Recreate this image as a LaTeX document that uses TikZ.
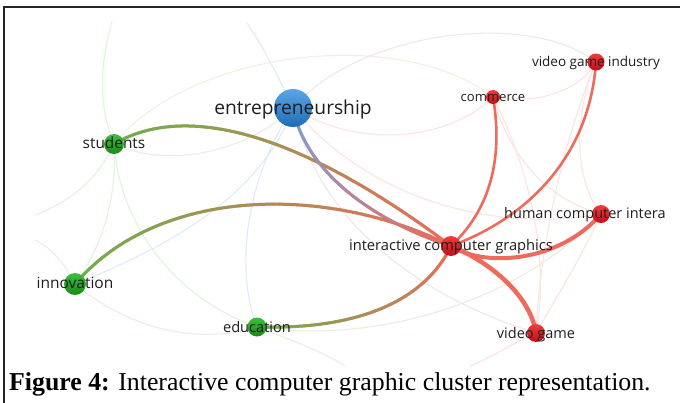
\documentclass[tikz,border=0pt]{standalone}
\usepackage{fontspec}
\setmainfont{Liberation Serif}
\newfontfamily\osans{Open Sans}
\usetikzlibrary{decorations.markings}
\definecolor{egreen}{HTML}{6DB04E}
\definecolor{ered}{HTML}{EE6A5C}
\definecolor{eblue}{HTML}{7C9FD8}
\definecolor{fgreen}{HTML}{E2F3DF}
\definecolor{fblue}{HTML}{E0EBF7}
\definecolor{fpink}{HTML}{FCE4E1}
\definecolor{fbeige}{HTML}{F7EEE2}
\definecolor{lbltext}{HTML}{1E1E1E}
\definecolor{ntopg}{HTML}{3DBE3D}
\definecolor{nbotg}{HTML}{178A17}
\definecolor{ntopr}{HTML}{F03C3C}
\definecolor{nbotr}{HTML}{C20E16}
\definecolor{ntopb}{HTML}{5AA6E8}
\definecolor{nbotb}{HTML}{1F6CB5}
\tikzset{
  gradedge/.style n args={3}{decorate, decoration={markings,
     mark=between positions 0 and 1 step 1.2pt with {
       \pgfmathtruncatemacro\myfr{(\pgfkeysvalueof{/pgf/decoration/mark info/distance from start}/\pgfdecoratedpathlength)*100}
       \draw[line width=#3, color=#2!\myfr!#1] (-0.9pt,0) -- (0.9pt,0);
     }}},
  faint/.style={line width=1.1pt, draw=#1},
  redge/.style={line width=#1, draw=ered},
  gnode/.style={circle, inner sep=0pt, minimum size=#1, top color=ntopg, bottom color=nbotg, draw=none},
  rnode/.style={circle, inner sep=0pt, minimum size=#1, top color=ntopr, bottom color=nbotr, draw=none},
  bnode/.style={circle, inner sep=0pt, minimum size=#1, top color=ntopb, bottom color=nbotb, draw=none},
  lbl/.style={inner sep=0pt, anchor=base, text=lbltext, font=\osans\fontsize{#1}{#1}\selectfont},
}
\begin{document}
\begin{tikzpicture}[x=1pt,y=-1pt]
\useasboundingbox (0,0) rectangle (680,403);
\fill[white] (0,0) rectangle (680,403);
% frame
\draw[line width=1.3pt, black!85] (680,7) -- (4,7) -- (4,403);

% node centres
\coordinate (ent) at (293,108);
\coordinate (stu) at (114,144);
\coordinate (inn) at (75,284);
\coordinate (edu) at (257,327);
\coordinate (icg) at (451,246);
\coordinate (com) at (493,97);
\coordinate (vgi) at (596,62);
\coordinate (hci) at (601,214);
\coordinate (vg) at (536,333);
% free ends of faint connectors
\coordinate (top1) at (112,22);
\coordinate (top2) at (247,23);
\coordinate (left1) at (35,215);
\coordinate (left2) at (35,240);
\coordinate (low1) at (345,366);
\coordinate (low2) at (470,366);

% faint connectors
\draw[faint=fgreen] (top1) .. controls (98,70) and (100,110) .. (stu);
\draw[faint=fblue] (top2) .. controls (262,45) and (275,70) .. (ent);
\draw[faint=fbeige] (stu) .. controls (190,50) and (400,25) .. (com);
\draw[faint=fgreen] (stu) .. controls (170,170) and (250,150) .. (ent);
\draw[faint=fgreen] (stu) .. controls (100,175) and (75,200) .. (left1);
\draw[faint=fgreen] (left2) .. controls (55,250) and (65,265) .. (inn);
\draw[faint=fgreen] (stu) .. controls (118,200) and (100,250) .. (inn);
\draw[faint=fgreen] (stu) .. controls (120,230) and (180,300) .. (edu);
\draw[faint=fblue] (ent) .. controls (260,200) and (160,250) .. (inn);
\draw[faint=fblue] (ent) .. controls (245,180) and (235,270) .. (edu);
\draw[faint=fgreen] (inn) .. controls (130,330) and (200,345) .. (edu);
\draw[faint=fgreen] (edu) .. controls (290,340) and (320,350) .. (low1);
\draw[faint=fgreen!60!fpink] (edu) .. controls (380,345) and (520,300) .. (hci);
\draw[faint=fpink] (ent) .. controls (360,150) and (450,140) .. (com);
\draw[faint=fpink!60!fblue] (ent) .. controls (360,30) and (530,10) .. (vgi);
\draw[faint=fpink] (com) .. controls (540,105) and (580,90) .. (vgi);
\draw[faint=fpink] (com) .. controls (510,160) and (550,200) .. (hci);
\draw[faint=fpink] (com) .. controls (530,170) and (550,260) .. (vg);
\draw[faint=fpink] (vgi) .. controls (572,120) and (575,180) .. (hci);
\draw[faint=fpink] (vgi) .. controls (560,150) and (540,250) .. (vg);
\draw[faint=fpink] (hci) .. controls (580,260) and (555,300) .. (vg);
\draw[faint=fpink] (ent) .. controls (360,190) and (480,235) .. (hci);
\draw[faint=fblue!50!fpink] (ent) .. controls (320,230) and (430,300) .. (vg);
\draw[faint=fpink] (vg) .. controls (510,345) and (490,358) .. (low2);

% strong connectors
\path[gradedge={egreen}{ered}{3pt}] (stu) .. controls (180,105) and (290,125) .. (icg);
\path[gradedge={egreen}{ered}{3pt}] (inn) .. controls (160,185) and (330,185) .. (icg);
\path[gradedge={egreen}{ered}{3pt}] (edu) .. controls (360,330) and (425,300) .. (icg);
\path[gradedge={eblue}{ered}{3pt}] (ent) .. controls (305,170) and (370,220) .. (icg);
\draw[redge=2.6pt] (com) .. controls (502,150) and (495,205) .. (icg);
\draw[redge=2.6pt] (vgi) .. controls (590,150) and (535,215) .. (icg);
\draw[redge=4pt] (icg) .. controls (485,268) and (560,262) .. (hci);
\draw[redge=4.5pt] (icg) .. controls (490,262) and (530,295) .. (vg);

% nodes
\node[bnode=38pt] (n-ent) at (ent) {};
\node[gnode=20pt] (n-stu) at (stu) {};
\node[gnode=22pt] (n-inn) at (inn) {};
\node[gnode=19pt] (n-edu) at (edu) {};
\node[rnode=20pt] (n-icg) at (icg) {};
\node[rnode=14pt] (n-com) at (com) {};
\node[rnode=17pt] (n-vgi) at (vgi) {};
\node[rnode=18pt] (n-hci) at (hci) {};
\node[rnode=18pt] (n-vg) at (vg) {};

% labels
\node[lbl=19.2] (l-ent) at (293,115) {entrepreneurship};
\node[lbl=15.4] (l-stu) at (114,149) {students};
\node[lbl=15.5] (l-inn) at (75,289) {innovation};
\node[lbl=14.6] (l-edu) at (257,332) {education};
\node[lbl=14.7] (l-icg) at (451,251) {interactive computer graphics};
\node[lbl=13.1] (l-com) at (493,101.5) {commerce};
\node[lbl=13.5] (l-vgi) at (596,66.5) {video game industry};
\node[lbl=14.5, anchor=base west] (l-hci) at (504,219) {human computer intera};
\node[lbl=14.5] (l-vg) at (536,338) {video game};

% caption
\node[inner sep=0pt, anchor=base west, font=\fontsize{25.8}{30}\selectfont] (cap) at (9,390) {\textbf{Figure 4:} Interactive computer graphic cluster representation.};
\end{tikzpicture}
\end{document}
